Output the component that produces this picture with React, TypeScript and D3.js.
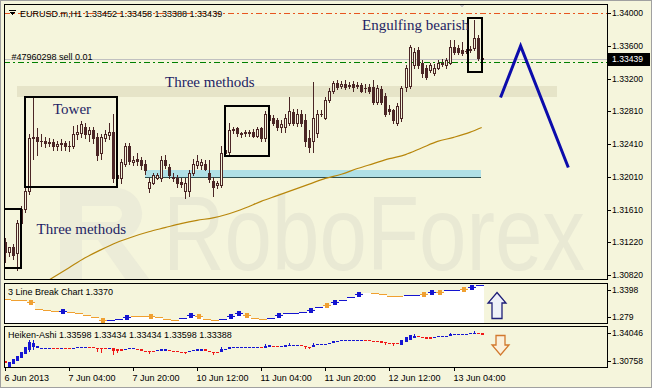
import React from 'react';
import * as d3 from 'd3';

const W = 652;
const H = 388;

const BG = '#f5f5dc';
const CANDLE = '#4b2626';
const NAVY = '#1e1e64';
const SANS = '"Liberation Sans", Arial, sans-serif';
const SERIF = '"Liberation Serif", "Times New Roman", serif';

// EURUSD H1, first bar 6 Jun 2013 12:00
const opens = [
  1.3121, 1.3109, 1.3115, 1.3108, 1.3145, 1.3162, 1.3184, 1.3248, 1.3250, 1.3244,
  1.3245, 1.3242, 1.3243, 1.3239, 1.3241, 1.3242, 1.3238, 1.3238, 1.3253, 1.3254,
  1.3262, 1.3253, 1.3258, 1.3249, 1.3230, 1.3248, 1.3252, 1.3255, 1.3200, 1.3200,
  1.3217, 1.3239, 1.3219, 1.3223, 1.3221, 1.3216, 1.3187, 1.3194, 1.3200, 1.3199,
  1.3222, 1.3213, 1.3201, 1.3199, 1.3195, 1.3184, 1.3184, 1.3206, 1.3215, 1.3215,
  1.3217, 1.3206, 1.3196, 1.3191, 1.3191, 1.3230, 1.3231, 1.3258, 1.3260, 1.3254,
  1.3254, 1.3254, 1.3256, 1.3251, 1.3260, 1.3248, 1.3276, 1.3272, 1.3270, 1.3261,
  1.3261, 1.3266, 1.3280, 1.3267, 1.3278, 1.3270, 1.3248, 1.3245, 1.3254, 1.3277,
  1.3273, 1.3294, 1.3305, 1.3315, 1.3312, 1.3314, 1.3311, 1.3314, 1.3311, 1.3313,
  1.3309, 1.3310, 1.3310, 1.3292, 1.3308, 1.3299, 1.3284, 1.3282, 1.3267, 1.3272,
  1.3310, 1.3312, 1.3337, 1.3355, 1.3339, 1.3333, 1.3331, 1.3327, 1.3334, 1.3338,
  1.3337, 1.3340, 1.3359, 1.3358, 1.3355, 1.3354, 1.3355, 1.3358, 1.3370, 1.33452,
];
const highs = [
  1.3126, 1.3116, 1.3119, 1.3148, 1.3166, 1.3189, 1.3253, 1.3297, 1.3260, 1.3253,
  1.3249, 1.3248, 1.3247, 1.3245, 1.3247, 1.3245, 1.3244, 1.3263, 1.3264, 1.3269,
  1.3267, 1.3262, 1.3261, 1.3254, 1.3253, 1.3258, 1.3267, 1.3278, 1.3211, 1.3223,
  1.3242, 1.3242, 1.3226, 1.3230, 1.3225, 1.3221, 1.3199, 1.3206, 1.3206, 1.3226,
  1.3227, 1.3217, 1.3205, 1.3203, 1.3199, 1.3199, 1.3209, 1.3223, 1.3227, 1.3223,
  1.3221, 1.3221, 1.3201, 1.3196, 1.3239, 1.3238, 1.3267, 1.3261, 1.3262, 1.3256,
  1.3258, 1.3258, 1.3259, 1.3261, 1.3262, 1.3281, 1.3280, 1.3276, 1.3273, 1.3270,
  1.3277, 1.3298, 1.3284, 1.3284, 1.3282, 1.3278, 1.3258, 1.3316, 1.3282, 1.3282,
  1.3298, 1.3309, 1.3317, 1.3319, 1.3317, 1.3319, 1.3316, 1.3317, 1.3316, 1.3315,
  1.3314, 1.3314, 1.3319, 1.3313, 1.3311, 1.3303, 1.3288, 1.3284, 1.3291, 1.3311,
  1.3337, 1.3361, 1.3358, 1.3359, 1.3343, 1.3337, 1.3340, 1.3338, 1.3343, 1.3344,
  1.3346, 1.3367, 1.3367, 1.3361, 1.3365, 1.3356, 1.3360, 1.3392, 1.3373, 1.33458,
];
const lows = [
  1.3097, 1.3104, 1.3101, 1.3087, 1.3141, 1.3158, 1.3180, 1.3223, 1.3227, 1.3238,
  1.3237, 1.3238, 1.3234, 1.3233, 1.3234, 1.3233, 1.3232, 1.3236, 1.3247, 1.3250,
  1.3248, 1.3245, 1.3242, 1.3221, 1.3223, 1.3245, 1.3247, 1.3195, 1.3193, 1.3193,
  1.3214, 1.3216, 1.3215, 1.3215, 1.3211, 1.3204, 1.3182, 1.3192, 1.3198, 1.3196,
  1.3212, 1.3200, 1.3196, 1.3189, 1.3189, 1.3175, 1.3178, 1.3203, 1.3212, 1.3211,
  1.3209, 1.3195, 1.3178, 1.3187, 1.3188, 1.3226, 1.3228, 1.3254, 1.3251, 1.3250,
  1.3251, 1.3251, 1.3249, 1.3249, 1.3245, 1.3245, 1.3267, 1.3264, 1.3258, 1.3256,
  1.3256, 1.3264, 1.3264, 1.3263, 1.3263, 1.3239, 1.3231, 1.3231, 1.3250, 1.3275,
  1.3271, 1.3292, 1.3303, 1.3308, 1.3309, 1.3308, 1.3309, 1.3306, 1.3309, 1.3304,
  1.3304, 1.3303, 1.3289, 1.3289, 1.3289, 1.3275, 1.3277, 1.3267, 1.3264, 1.3269,
  1.3306, 1.3309, 1.3334, 1.3333, 1.3323, 1.3320, 1.3328, 1.3325, 1.3332, 1.3336,
  1.3334, 1.3338, 1.3350, 1.3350, 1.3349, 1.3352, 1.3353, 1.3355, 1.3343, 1.33388,
];
const closes = [
  1.3109, 1.3115, 1.3106, 1.3145, 1.3162, 1.3184, 1.3248, 1.3250, 1.3245, 1.3245,
  1.3242, 1.3243, 1.3239, 1.3241, 1.3242, 1.3238, 1.3239, 1.3253, 1.3256, 1.3265,
  1.3253, 1.3258, 1.3248, 1.3227, 1.3249, 1.3253, 1.3255, 1.3199, 1.3203, 1.3219,
  1.3239, 1.3220, 1.3221, 1.3220, 1.3215, 1.3209, 1.3195, 1.3203, 1.3203, 1.3221,
  1.3215, 1.3203, 1.3200, 1.3193, 1.3192, 1.3194, 1.3206, 1.3217, 1.3220, 1.3219,
  1.3211, 1.3198, 1.3188, 1.3193, 1.3230, 1.3233, 1.3258, 1.3259, 1.3254, 1.3253,
  1.3255, 1.3255, 1.3251, 1.3259, 1.3248, 1.3278, 1.3270, 1.3267, 1.3261, 1.3265,
  1.3273, 1.3281, 1.3267, 1.3278, 1.3266, 1.3245, 1.3237, 1.3273, 1.3278, 1.3278,
  1.3294, 1.3306, 1.3315, 1.3310, 1.3314, 1.3310, 1.3313, 1.3310, 1.3313, 1.3306,
  1.3309, 1.3305, 1.3292, 1.3309, 1.3292, 1.3278, 1.3281, 1.3270, 1.3287, 1.3309,
  1.3334, 1.3359, 1.3353, 1.3337, 1.3327, 1.3322, 1.3337, 1.3334, 1.3339, 1.3340,
  1.3343, 1.3359, 1.3353, 1.3353, 1.3352, 1.3354, 1.3356, 1.3370, 1.3345, 1.33439,
];

// moving average, read every 4 bars
const maBars = [8, 12, 16, 20, 24, 28, 32, 36, 40, 44, 48, 52, 56, 60, 64, 68, 72, 76, 80, 84, 88, 92, 96, 100, 104, 108, 112, 116, 119];
const maValues = [
  1.3066, 1.3078, 1.3090, 1.3102, 1.3112, 1.3121, 1.3128, 1.3134, 1.3139, 1.3144,
  1.3148, 1.3151, 1.3156, 1.3163, 1.3171, 1.3178, 1.3185, 1.3192, 1.3199, 1.3204,
  1.3211, 1.3217, 1.3223, 1.3228, 1.3236, 1.3244, 1.3249, 1.3255, 1.3261,
];

// 3 Line Break: one level per 2 bars, d = down (orange), u = up (blue), n = none
const lbLevels = [
  1.3195, 1.3184, 1.3173, 1.3128, 1.2970, 1.2948, 1.2925, 1.2925, 1.2903, 1.2880,
  1.2835, 1.2790, 1.2722, 1.2722, 1.2745, 1.2790, 1.2813, 1.2813, 1.2813, 1.2790,
  1.2745, 1.2722, 1.2768, 1.2835, 1.2813, 1.2745, 1.2722, 1.2745, 1.2813, 1.2880,
  1.2835, 1.2768, 1.2745, 1.2768, 1.2835, 1.2880, 1.2880, 1.2903, 1.2948, 1.3015,
  1.3060, 1.3128, 1.3173, 1.3240, 1.3308, 1.3330, 1.3330, 1.3308, 1.3263, 1.3263,
  1.3285, 1.3285, 1.3308, 1.3353, 1.3353, 1.3398, 1.3398, 1.3420, 1.3466, 1.3511,
];
const lbDir = ('dddddddudd' + 'ddduuudddd' + 'dduuddduuu' + 'ddduuuuuuu' + 'duuuundddd' + 'uududuuduu').split('');
const lbBricks = [3, 7, 12, 15, 18, 23, 24, 28, 29, 30, 34, 38, 40, 41, 44, 52, 53, 54, 57, 58];

// Heiken-Ashi
const haOpen = [
  1.3070, 1.3005, 1.3041, 1.3076, 1.3111, 1.3158, 1.3205, 1.3240, 1.3228, 1.3223,
  1.3223, 1.3223, 1.3234, 1.3234, 1.3223, 1.3228, 1.3228, 1.3223, 1.3228, 1.3234,
  1.3234, 1.3246, 1.3240, 1.3228, 1.3223, 1.3228, 1.3223, 1.3228, 1.3211, 1.3211,
  1.3205, 1.3211, 1.3211, 1.3217, 1.3211, 1.3199, 1.3193, 1.3199, 1.3193, 1.3199,
  1.3199, 1.3205, 1.3199, 1.3193, 1.3187, 1.3187, 1.3187, 1.3193, 1.3199, 1.3199,
  1.3211, 1.3199, 1.3187, 1.3187, 1.3182, 1.3205, 1.3217, 1.3228, 1.3228, 1.3228,
  1.3228, 1.3228, 1.3228, 1.3228, 1.3240, 1.3228, 1.3246, 1.3252, 1.3252, 1.3240,
  1.3246, 1.3252, 1.3252, 1.3252, 1.3264, 1.3252, 1.3246, 1.3240, 1.3258, 1.3264,
  1.3270, 1.3281, 1.3293, 1.3299, 1.3305, 1.3305, 1.3305, 1.3305, 1.3305, 1.3305,
  1.3317, 1.3317, 1.3311, 1.3311, 1.3305, 1.3299, 1.3293, 1.3287, 1.3287, 1.3264,
  1.3299, 1.3322, 1.3346, 1.3364, 1.3358, 1.3352, 1.3352, 1.3346, 1.3352, 1.3358,
  1.3364, 1.3369, 1.3381, 1.3381, 1.3381, 1.3381, 1.3387, 1.3387, 1.3405, 1.3399,
];
const haClose = [
  1.3058, 1.3064, 1.3099, 1.3135, 1.3182, 1.3240, 1.3299, 1.3287, 1.3252, 1.3234,
  1.3234, 1.3234, 1.3223, 1.3223, 1.3234, 1.3217, 1.3217, 1.3234, 1.3240, 1.3246,
  1.3246, 1.3234, 1.3228, 1.3217, 1.3211, 1.3217, 1.3234, 1.3193, 1.3199, 1.3199,
  1.3217, 1.3223, 1.3223, 1.3205, 1.3199, 1.3187, 1.3182, 1.3187, 1.3205, 1.3211,
  1.3211, 1.3193, 1.3187, 1.3182, 1.3176, 1.3176, 1.3199, 1.3205, 1.3211, 1.3211,
  1.3199, 1.3187, 1.3176, 1.3176, 1.3217, 1.3217, 1.3240, 1.3240, 1.3240, 1.3240,
  1.3240, 1.3240, 1.3240, 1.3240, 1.3228, 1.3252, 1.3258, 1.3240, 1.3240, 1.3252,
  1.3258, 1.3264, 1.3264, 1.3264, 1.3252, 1.3240, 1.3234, 1.3264, 1.3270, 1.3275,
  1.3281, 1.3293, 1.3305, 1.3311, 1.3317, 1.3317, 1.3317, 1.3317, 1.3317, 1.3317,
  1.3305, 1.3305, 1.3299, 1.3299, 1.3293, 1.3287, 1.3281, 1.3275, 1.3275, 1.3322,
  1.3358, 1.3381, 1.3369, 1.3352, 1.3346, 1.3340, 1.3340, 1.3358, 1.3364, 1.3369,
  1.3375, 1.3393, 1.3393, 1.3393, 1.3393, 1.3393, 1.3399, 1.3405, 1.3387, 1.3381,
];
const haWickBars = [6, 7, 23, 24, 27, 28, 36, 45, 52, 54, 65, 71, 75, 76, 77, 95, 97, 102, 111, 117];
const haWickHigh = [1.3322, 1.3322, 1.3228, 1.3223, 1.3228, 1.3211, 1.3193, 1.3187, 1.3187, 1.3240, 1.3275, 1.3287, 1.3252, 1.3246, 1.3287, 1.3299, 1.3287, 1.3393, 1.3405, 1.3432];
const haWickLow = [1.3182, 1.3205, 1.3182, 1.3170, 1.3146, 1.3170, 1.3158, 1.3158, 1.3146, 1.3182, 1.3228, 1.3252, 1.3217, 1.3217, 1.3240, 1.3264, 1.3252, 1.3346, 1.3369, 1.3387];

// axes
const priceTicks = ['1.34000', '1.33600', '1.33200', '1.32810', '1.32410', '1.32010', '1.31610', '1.31220', '1.30820'];
const lbTicks = ['1.3398', '1.279'];
const haTicks = ['1.34046', '1.30758'];
const timeBars = [0, 16, 32, 48, 64, 80, 96, 112];
const timeLabels = ['6 Jun 2013', '7 Jun 04:00', '7 Jun 20:00', '10 Jun 12:00', '11 Jun 04:00', '11 Jun 20:00', '12 Jun 12:00', '13 Jun 04:00'];

const bidPrice = 1.33439;
const sellPrice = 1.33411;
const levelPrice = 1.34;

// analyst drawings (bar index, price)
const boxes = [
  { b0: -0.1, b1: 4.1, hi: 1.31618, lo: 1.30899, w: 2.5 },
  { b0: 5.1, b1: 28.05, hi: 1.32981, lo: 1.31885, w: 2.5 },
  { b0: 55.0, b1: 65.95, hi: 1.32871, lo: 1.32263, w: 2.5 },
  { b0: 115.7, b1: 119.1, hi: 1.33943, lo: 1.33285, w: 2 },
];
const zone = { b0: 35.0, b1: 118.8, hi: 1.32092, lo: 1.32001 };
const band = { b0: 3.1, b1: 137.8, hi: 1.33115, lo: 1.32981 };
const zigBars = [123.7, 128.7, 140.6];
const zigPrices = [1.32975, 1.33602, 1.32123];

export default function App() {
  const L = 4, R = 608, T = 4, B = 280;
  const lbTop = 282.5, lbBot = 324;
  const haTop = 326, haBot = 368;

  const x = d3.scaleLinear().domain([0, 119]).range([4.5, 481.7]);
  const y = d3.scaleLinear().domain([1.3082, 1.34]).range([274.5, 13.3]);
  const yLB = d3.scaleLinear().domain([1.279, 1.3398]).range([317, 290]);
  const yHA = d3.scaleLinear().domain([1.30758, 1.34046]).range([361, 333]);

  const maLine = d3.line<number>()
    .x((_, k) => x(maBars[k]))
    .y((d) => y(d))
    .curve(d3.curveMonotoneX)(maValues);

  const zig = d3.line<number>()
    .x((_, k) => x(zigBars[k]))
    .y((d) => y(d))(zigPrices);

  const lbX0 = (k: number) => x(2 * k) - 2;
  const lbX1 = (k: number) => x(2 * k + 1) + 2;
  const lbPts: [number, number][] = lbLevels.map((v, k) => [lbX0(k), yLB(v)]);
  lbPts.push([lbX1(lbLevels.length - 1), yLB(lbLevels[lbLevels.length - 1])]);
  const lbArea = d3.area<[number, number]>()
    .x((d) => d[0]).y0(lbBot).y1((d) => d[1])
    .curve(d3.curveStepAfter)(lbPts);

  const candles = opens.map((o, i) => {
    const c = closes[i];
    const xi = Math.round(x(i));
    const top = Math.round(y(Math.max(o, c)));
    const bot = Math.round(y(Math.min(o, c)));
    const bear = c < o;
    return (
      <g key={i}>
        <line x1={xi + 0.5} x2={xi + 0.5} y1={Math.round(y(highs[i]))} y2={Math.round(y(lows[i])) + 1} stroke={CANDLE} strokeWidth={1} />
        <rect x={xi - 0.5} y={top + 0.5} width={2} height={Math.max(bot - top, 0.01)}
          fill={bear ? CANDLE : BG} stroke={CANDLE} strokeWidth={1} />
      </g>
    );
  });

  const haBars = haOpen.map((o, i) => {
    const c = haClose[i];
    const col = c >= o ? '#1616d2' : '#f01818';
    const xi = Math.round(x(i));
    const top = Math.round(yHA(Math.max(o, c)));
    const bot = Math.round(yHA(Math.min(o, c)));
    return <rect key={i} x={xi - 1} y={top} width={3} height={Math.max(bot - top, 1)} fill={col} />;
  });
  const haWicks = haWickBars.map((b, k) => {
    const col = haClose[b] >= haOpen[b] ? '#1616d2' : '#f01818';
    const xi = Math.round(x(b));
    return <line key={k} x1={xi + 0.5} x2={xi + 0.5} y1={yHA(haWickHigh[k])} y2={yHA(haWickLow[k])} stroke={col} strokeWidth={1} />;
  });

  const axisLabel = (txt: string, yy: number, k: string) => (
    <g key={k}>
      <line x1={R} x2={R + 3} y1={Math.round(yy) + 0.5} y2={Math.round(yy) + 0.5} stroke="#000" />
      <text x={612} y={yy} dy="0.35em" fontSize={8.6} fontFamily={SANS} fill="#000">{txt}</text>
    </g>
  );

  return (
    <svg width={W} height={H} style={{ position: 'absolute', left: 0, top: 0 }} shapeRendering="crispEdges">
      <defs>
        <clipPath id="mainClip"><rect x={L} y={T} width={R - L} height={B - T} /></clipPath>
        <clipPath id="lbClip"><rect x={L} y={lbTop} width={R - L} height={lbBot - lbTop} /></clipPath>
        <clipPath id="haClip"><rect x={L} y={haTop} width={R - L} height={haBot - haTop} /></clipPath>
      </defs>
      <rect x={0} y={0} width={W} height={H} fill={BG} />
      <rect x={0.5} y={0.5} width={W - 1} height={H - 1} fill="none" stroke="#a0a0a0" />

      {/* watermark */}
      <g transform="translate(163,270) scale(1,1.36)" shapeRendering="auto">
        <text x={0} y={0} fontSize={78} fontFamily={SANS} fill="#e9e9d4" textLength={422} lengthAdjust="spacingAndGlyphs">RoboForex</text>
      </g>

      {/* main window */}
      <g clipPath="url(#mainClip)">
        <path d="M60,188 H116 A26,26 0 0 1 120,239.7 L150,280 H126 L98,240 H82 V280 H60 Z M82,206 V222 H114 A8,8 0 0 0 114,206 Z"
          fill="#ececd8" fillRule="evenodd" shapeRendering="auto" />

        <rect x={x(band.b0)} y={y(band.hi)} width={x(band.b1) - x(band.b0)} height={y(band.lo) - y(band.hi)} fill="#e6e4c8" />
        <rect x={x(zone.b0)} y={y(zone.hi)} width={x(zone.b1) - x(zone.b0)} height={y(zone.lo) - y(zone.hi)} fill="#b0e0e6" />
        <line x1={x(zone.b0)} x2={x(zone.b1)} y1={Math.round(y(zone.lo)) + 0.5} y2={Math.round(y(zone.lo)) + 0.5} stroke="#2f4f4f" />

        <line x1={L} x2={R} y1={Math.round(y(levelPrice)) + 0.5} y2={Math.round(y(levelPrice)) + 0.5} stroke="#e8551f" strokeDasharray="6,3,2,3" />
        <line x1={L} x2={R} y1={Math.round(y(bidPrice)) + 0.5} y2={Math.round(y(bidPrice)) + 0.5} stroke="#c0c0c0" />
        <line x1={L} x2={R} y1={Math.round(y(sellPrice)) + 0.5} y2={Math.round(y(sellPrice)) + 0.5} stroke="#008000" strokeWidth={1.3} strokeDasharray="6,3,2,3" />

        <path d={maLine || ''} fill="none" stroke="#b8860b" strokeWidth={1.2} shapeRendering="auto" />
        {candles}

        {boxes.map((b, k) => (
          <rect key={k} x={x(b.b0)} y={y(b.hi)} width={x(b.b1) - x(b.b0)} height={y(b.lo) - y(b.hi)}
            fill="none" stroke="#000" strokeWidth={b.w} />
        ))}
        <path d={zig || ''} fill="none" stroke="#0c0cab" strokeWidth={3} strokeLinejoin="miter" shapeRendering="auto" />

        <g fontFamily={SERIF} fontSize={15} fill={NAVY} shapeRendering="auto">
          <text x={362} y={29.5}>Engulfing bearish</text>
          <text x={165} y={87}>Three methods</text>
          <text x={53} y={114}>Tower</text>
          <text x={36.5} y={234}>Three methods</text>
        </g>

        <path d="M458.5,4 L465.5,4 L462,8 Z" fill="#c8c8c8" />
        <g fontFamily={SANS} fontSize={9} fill="#000" shapeRendering="auto">
          <text x={20} y={16.5}>EURUSD.m,H1  1.33452 1.33458 1.33388 1.33439</text>
          <text x={11.5} y={59.5}>#47960298 sell 0.01</text>
        </g>
        <rect x={9} y={10} width={7} height={1} fill="#000" />
        <path d="M9,11.5 L16,11.5 L12.5,15.5 Z" fill="#000" />
      </g>
      <rect x={L + 0.5} y={T + 0.5} width={R - L - 1} height={B - T - 1} fill="none" stroke="#000" />
      {priceTicks.map((t) => axisLabel(t, y(+t), 'p' + t))}
      <rect x={R} y={Math.round(y(bidPrice)) - 6} width={42} height={13} fill="#000" />
      <text x={612} y={y(bidPrice)} dy="0.35em" fontSize={8.6} fontFamily={SANS} fill="#fff">1.33439</text>

      {/* 3 Line Break window */}
      <g clipPath="url(#lbClip)">
        <path d={lbArea || ''} fill="#ffffff" />
        {lbLevels.map((v, k) => lbDir[k] === 'n' ? null : (
          <line key={k} x1={lbX0(k)} x2={lbX1(k)} y1={Math.round(yLB(v)) + 0.5} y2={Math.round(yLB(v)) + 0.5}
            stroke={lbDir[k] === 'u' ? '#1414d0' : '#f0a030'} strokeWidth={1.5} />
        ))}
        {lbBricks.map((k) => (
          <rect key={k} x={Math.round((lbX0(k) + lbX1(k)) / 2) - 2} y={Math.round(yLB(lbLevels[k])) - 2} width={4} height={5}
            fill={lbDir[k] === 'u' ? '#1414d0' : '#f0a030'} />
        ))}
        <text x={8} y={295} fontSize={9} fontFamily={SANS} fill="#000" shapeRendering="auto">3 Line Break Chart 1.3370</text>
        <path d="M497,292.5 L506,303 L502,303 L502,318.5 L492,318.5 L492,303 L488,303 Z" fill="#eef0f8" stroke="#1e1e78" strokeWidth={1.3} shapeRendering="auto" />
      </g>
      <rect x={L + 0.5} y={lbTop + 0.5} width={R - L - 1} height={lbBot - lbTop - 1} fill="none" stroke="#000" />
      {lbTicks.map((t) => axisLabel(t, yLB(+t), 'l' + t))}

      {/* Heiken-Ashi window */}
      <g clipPath="url(#haClip)">
        {haWicks}
        {haBars}
        <text x={8} y={338} fontSize={9} fontFamily={SANS} fill="#000" shapeRendering="auto">Heiken-Ashi 1.33598 1.33434 1.33434 1.33598 1.33388</text>
        <path d="M496,335.5 L505,335.5 L505,345 L509,345 L500.5,355 L492,345 L496,345 Z" fill="#fbf1dc" stroke="#d2782d" strokeWidth={1.3} shapeRendering="auto" />
      </g>
      <rect x={L + 0.5} y={haTop + 0.5} width={R - L - 1} height={haBot - haTop - 1} fill="none" stroke="#000" />
      {haTicks.map((t) => axisLabel(t, yHA(+t), 'h' + t))}

      {/* time axis */}
      {timeBars.map((b, k) => {
        const xi = Math.round(x(b)) + 0.5;
        return (
          <g key={k}>
            <line x1={xi} x2={xi} y1={haBot} y2={haBot + 3} stroke="#000" />
            <text x={xi - 1} y={381} fontSize={9} fontFamily={SANS} fill="#000" shapeRendering="auto">{timeLabels[k]}</text>
          </g>
        );
      })}
    </svg>
  );
}
